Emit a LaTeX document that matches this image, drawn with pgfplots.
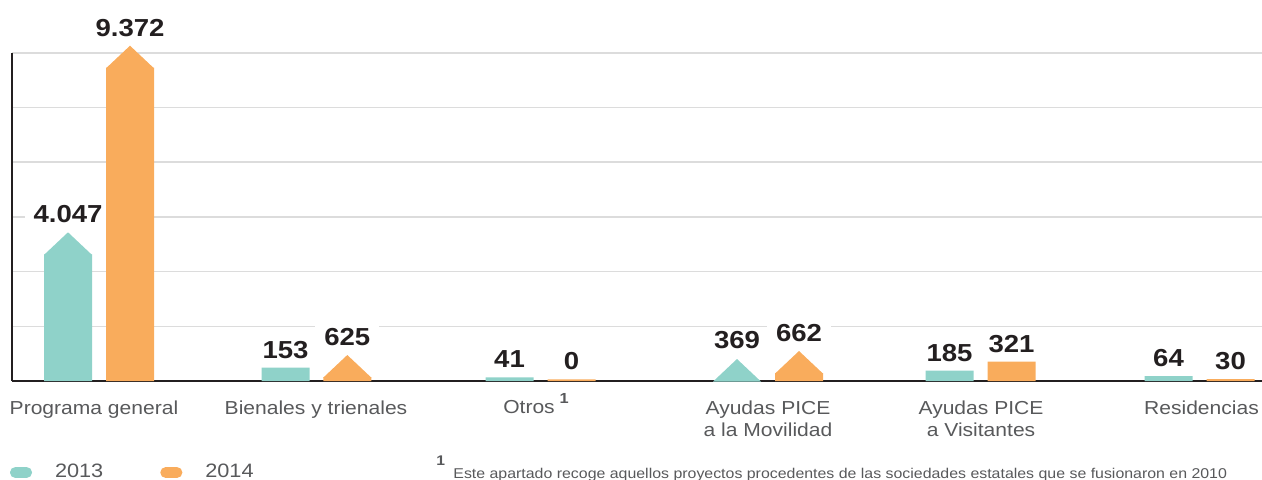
\documentclass[border=0pt]{standalone}
\usepackage{fontspec}
\setmainfont{Liberation Sans}[FakeStretch=1.12]
\usepackage{pgfplots}
\pgfplotsset{compat=1.18}
\usepackage{pgfplotstable}
\definecolor{c13}{HTML}{8FD2C9}
\definecolor{c14}{HTML}{F9AC5C}
\definecolor{ink}{HTML}{231F20}
\definecolor{lab}{HTML}{58595B}
\definecolor{gridc}{HTML}{DCDCDC}

\pgfdeclareplotmark{arrowhead}{%
  \pgfpathmoveto{\pgfqpoint{-12pt}{-0.3pt}}%
  \pgfpathlineto{\pgfqpoint{0pt}{11pt}}%
  \pgfpathlineto{\pgfqpoint{12pt}{-0.3pt}}%
  \pgfpathclose\pgfusepathqfill}

% x = position (px), shoulder = bar body height, tip = drawn top, value = label
\pgfplotstableread{
x shoulder tip value arrow
68 126.7 148.7 4047 1
285.5 13.3 13.3 153 0
509.5 3.7 3.7 41 0
737 0 22.4 369 1
949.5 10.3 10.3 185 0
1168.5 5 5 64 0
}\dataA
\pgfplotstableread{
x shoulder tip value arrow
130 313.3 335.3 9372 1
347.3 4 26 625 1
571.5 1.7 1.7 0 0
799 8 29.4 662 1
1011.5 19.3 19.3 321 0
1230.5 2 2 30 0
}\dataB

\begin{document}
\begin{tikzpicture}
\begin{axis}[
  x=0.5pt, y=0.5pt,
  xmin=12, xmax=1262, ymin=0, ymax=328.3,
  clip=false, set layers,
  axis x line*=bottom, axis y line*=left,
  axis line style={-, line width=1pt, color=ink},
  ymajorgrids, grid style={gridc, line width=0.8pt},
  ytick={54.7,109.4,164.2,218.9,273.6,328.3}, yticklabels={},
  xtick={94,316,529,768,981,1201.5},
  xticklabels={Programa general, Bienales y trienales,
    {Otros\rlap{\hspace{2.5pt}\smash{\raisebox{4.8pt}{\bfseries\fontsize{7.3}{8}\selectfont 1}}}},
    {Ayudas PICE\\a la Movilidad}, {Ayudas PICE\\a Visitantes}, Residencias},
  major tick length=0pt,
  xticklabel style={align=center, font=\fontsize{9.4}{11.3}\selectfont, text=lab,
    anchor=north, inner sep=0pt, yshift=-9.5pt},
  legend columns=2, legend cell align=left,
  legend style={at={(axis description cs:0,0)}, anchor=west, xshift=-1pt, yshift=-45.75pt,
    draw=none, fill=none, inner sep=0pt, outer sep=0pt,
    font=\fontsize{9.7}{11}\selectfont, text=lab,
    nodes={inner sep=0pt},
    /tikz/every odd column/.style={column sep=11.5pt},
    /tikz/every even column/.style={column sep=28.5pt}},
]
% value labels (bars are put on a higher layer so they cover the white boxes)
\addplot[draw=none, mark=none, forget plot, point meta=explicit,
  nodes near coords={\pgfmathprintnumber[fixed, precision=0, 1000 sep={.}, assume math mode=true]{\pgfplotspointmeta}},
  every node near coord/.style={anchor=south, font=\bfseries\fontsize{12.3}{14}\selectfont,
    text=ink, fill=white, inner xsep=4.5pt, inner ysep=1.5pt, yshift=3pt}]
  table[x=x, y=tip, meta=value] {\dataA};
\addplot[draw=none, mark=none, forget plot, point meta=explicit,
  nodes near coords={\pgfmathprintnumber[fixed, precision=0, 1000 sep={.}, assume math mode=true]{\pgfplotspointmeta}},
  every node near coord/.style={anchor=south, font=\bfseries\fontsize{12.3}{14}\selectfont,
    text=ink, fill=white, inner xsep=4.5pt, inner ysep=1.5pt, yshift=3pt}]
  table[x=x, y=tip, meta=value] {\dataB};
% bar bodies
\addplot[on layer=axis foreground, ybar, bar width=48, bar shift=0pt, fill=c13, draw=none,
  legend image code/.code={\fill[c13, rounded corners=2.6pt] (0pt,-2.7pt) rectangle (11pt,2.7pt);}]
  table[x=x, y=shoulder] {\dataA};
\addlegendentry{2013}
\addplot[on layer=axis foreground, ybar, bar width=48, bar shift=0pt, fill=c14, draw=none,
  legend image code/.code={\fill[c14, rounded corners=2.6pt] (0pt,-2.7pt) rectangle (11pt,2.7pt);}]
  table[x=x, y=shoulder] {\dataB};
\addlegendentry{2014}
% arrow heads
\addplot[on layer=axis foreground, only marks, mark=arrowhead, color=c14, forget plot,
  restrict expr to domain={\thisrow{arrow}}{0.5:2}]
  table[x=x, y=shoulder] {\dataB};
\addplot[on layer=axis foreground, only marks, mark=arrowhead, color=c13, forget plot,
  restrict expr to domain={\thisrow{arrow}}{0.5:2}]
  table[x=x, y=shoulder] {\dataA};
% footnote
\node[anchor=base west, inner sep=0pt, font=\bfseries\fontsize{7}{8}\selectfont, text=lab]
  at (axis cs:436,-84) {1};
\node[anchor=base west, inner sep=0pt, font=\fontsize{7.1}{8}\selectfont, text=lab]
  at (axis cs:453,-97) {Este apartado recoge aquellos proyectos procedentes de las sociedades estatales que se fusionaron en 2010};
\coordinate (bl) at (axis cs:0,-98);
\coordinate (tr) at (axis cs:1262,381);
\end{axis}
\pgfresetboundingbox
\useasboundingbox (bl) rectangle (tr);
\end{tikzpicture}
\end{document}
